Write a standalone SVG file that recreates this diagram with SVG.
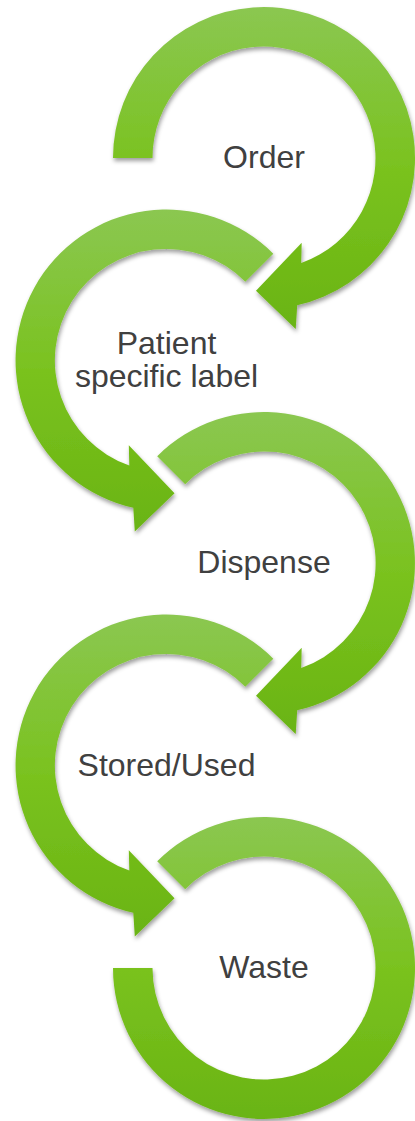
<svg xmlns="http://www.w3.org/2000/svg" width="415" height="1121" viewBox="0 0 415 1121">
  <defs>
    <linearGradient id="ringFill" x1="0" y1="0" x2="0" y2="1">
      <stop offset="0" stop-color="#8BC751"/>
      <stop offset="0.5" stop-color="#7AC21F"/>
      <stop offset="1" stop-color="#6AB413"/>
    </linearGradient>
    <filter id="softShadow" x="-10%" y="-10%" width="120%" height="120%">
      <feDropShadow dx="1" dy="3" stdDeviation="2.2" flood-color="#000" flood-opacity="0.38"/>
    </filter>
  </defs>
  <style>
    .ring { fill: url(#ringFill); filter: url(#softShadow); }
    .label { font-family: "Liberation Sans", Arial, sans-serif; font-size: 32px; fill: #404040; text-anchor: middle; }
  </style>
  <rect width="415" height="1121" fill="#ffffff"/>

  <g id="connectors">
    <!-- circular arrows: each ring runs into the next step -->
    <path id="arrow-order" class="ring" d="M113,158 A151,151 0 1 1 297.2,305.3 L295.7,329 L256,290.7 L301.7,242.7 L301.2,263.1 A111.5,111.5 0 1 0 152.5,158 Z"/>
    <path id="arrow-label" class="ring" d="M273.3,253.7 A151,151 0 1 0 133.3,507.8 L134.8,531.5 L174.5,493.2 L128.8,445.2 L129.3,465.6 A111.5,111.5 0 1 1 245.3,281.7 Z"/>
    <path id="arrow-dispense" class="ring" d="M157.2,456.2 A151,151 0 1 1 297.2,710.3 L295.7,734 L256,695.7 L301.7,647.7 L301.2,668.1 A111.5,111.5 0 1 0 185.2,484.2 Z"/>
    <path id="arrow-stored" class="ring" d="M273.3,658.7 A151,151 0 1 0 133.3,912.8 L134.8,936.5 L174.5,898.2 L128.8,850.2 L129.3,870.6 A111.5,111.5 0 1 1 245.3,686.7 Z"/>
    <path id="arrow-waste" class="ring" d="M157.2,861.2 A151,151 0 1 1 113,968 L152.5,968 A111.5,111.5 0 1 0 185.2,889.2 Z"/>
  </g>

  <g id="node-order">
    <text class="label" x="264" y="168">Order</text>
  </g>
  <g id="node-patient-label">
    <text class="label" x="166.5" y="354">Patient</text>
    <text class="label" x="166.5" y="387">specific label</text>
  </g>
  <g id="node-dispense">
    <text class="label" x="264" y="573">Dispense</text>
  </g>
  <g id="node-stored-used">
    <text class="label" x="166.5" y="776">Stored/Used</text>
  </g>
  <g id="node-waste">
    <text class="label" x="264" y="978">Waste</text>
  </g>
</svg>
